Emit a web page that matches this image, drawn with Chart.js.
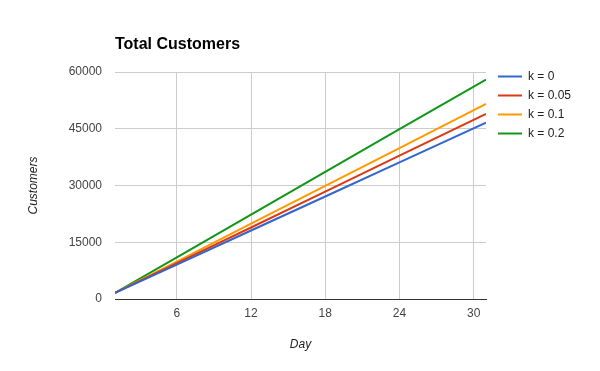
<!DOCTYPE html>
<html>
<head>
<meta charset="utf-8">
<script src="https://cdn.jsdelivr.net/npm/chart.js@4/dist/chart.umd.min.js"></script>
<style>
    body { margin: 0; background: #fff; }
    #wrap { width: 600px; height: 371px; position: relative; }
</style>
</head>
<body>
<div id="wrap"><canvas id="customersChart"></canvas></div>
<script>
// Values
const days = [1, 6, 12, 18, 24, 31];
const seriesLabels = ['k = 0', 'k = 0.05', 'k = 0.1', 'k = 0.2'];
const k0 = [1600, 9100, 18100, 27100, 36100, 46600];
const k005 = [1600, 9500, 18900, 28400, 37900, 48900];
const k01 = [1600, 9900, 19900, 29900, 39900, 51600];
const k02 = [1600, 11000, 22300, 33600, 44900, 58000];
const xTicks = [6, 12, 18, 24, 30];
const yTicks = [0, 15000, 30000, 45000, 60000];
const colors = ['#3366cc', '#dc3912', '#ff9900', '#109618'];

const FONT = "'Liberation Sans', Arial, sans-serif";

function toPoints(values) {
    return values.map((v, i) => ({ x: days[i], y: v }));
}

// Title and legend drawn the way the original chart places them
const titleLegendPlugin = {
    id: 'titleLegend',
    afterDraw(chart) {
        const ctx = chart.ctx;
        const area = chart.chartArea;
        ctx.save();
        ctx.fillStyle = '#000';
        ctx.font = 'bold 16px ' + FONT;
        ctx.textAlign = 'left';
        ctx.textBaseline = 'alphabetic';
        ctx.fillText('Total Customers', area.left, 49);

        ctx.font = '12px ' + FONT;
        ctx.textBaseline = 'middle';
        chart.data.datasets.forEach((ds, i) => {
            const y = 76.5 + i * 19;
            ctx.strokeStyle = ds.borderColor;
            ctx.lineWidth = 2;
            ctx.beginPath();
            ctx.moveTo(498, y);
            ctx.lineTo(522, y);
            ctx.stroke();
            ctx.fillStyle = '#222';
            ctx.fillText(ds.label, 528, y);
        });
        ctx.restore();
    }
};

const datasets = [k0, k005, k01, k02].map((vals, i) => ({
    label: seriesLabels[i],
    data: toPoints(vals),
    borderColor: colors[i],
    backgroundColor: colors[i],
    borderWidth: 2,
    pointRadius: 0,
    tension: 0,
    fill: false
}));

new Chart(document.getElementById('customersChart'), {
    type: 'line',
    data: { datasets: datasets },
    plugins: [titleLegendPlugin],
    options: {
        responsive: true,
        maintainAspectRatio: false,
        animation: false,
        layout: {
            padding: { left: 0, right: 114, top: 72, bottom: 0 }
        },
        plugins: {
            legend: { display: false },
            title: { display: false },
            tooltip: { enabled: false }
        },
        scales: {
            x: {
                type: 'linear',
                min: days[0],
                max: days[days.length - 1],
                afterBuildTicks: scale => {
                    scale.ticks = xTicks.map(v => ({ value: v }));
                },
                afterFit: scale => { scale.height = 72; },
                grid: { color: '#cccccc', drawTicks: false },
                border: { display: true, color: '#333333', width: 1 },
                ticks: {
                    padding: 7,
                    color: '#444',
                    font: { family: FONT, size: 12 },
                    maxRotation: 0
                },
                title: {
                    display: true,
                    text: 'Day',
                    color: '#222',
                    font: { family: FONT, size: 12, style: 'italic' },
                    padding: { top: 0, bottom: 19 }
                }
            },
            y: {
                min: yTicks[0],
                max: yTicks[yTicks.length - 1],
                afterBuildTicks: scale => {
                    scale.ticks = yTicks.map(v => ({ value: v }));
                },
                afterFit: scale => { scale.width = 115; },
                grid: { color: '#cccccc', drawTicks: false },
                border: { display: false },
                ticks: {
                    padding: 13,
                    color: '#444',
                    font: { family: FONT, size: 12 },
                    callback: v => String(v)
                },
                title: {
                    display: true,
                    text: 'Customers',
                    color: '#222',
                    font: { family: FONT, size: 12, style: 'italic' },
                    padding: { top: 26, bottom: 0 }
                }
            }
        }
    }
});
</script>
</body>
</html>
